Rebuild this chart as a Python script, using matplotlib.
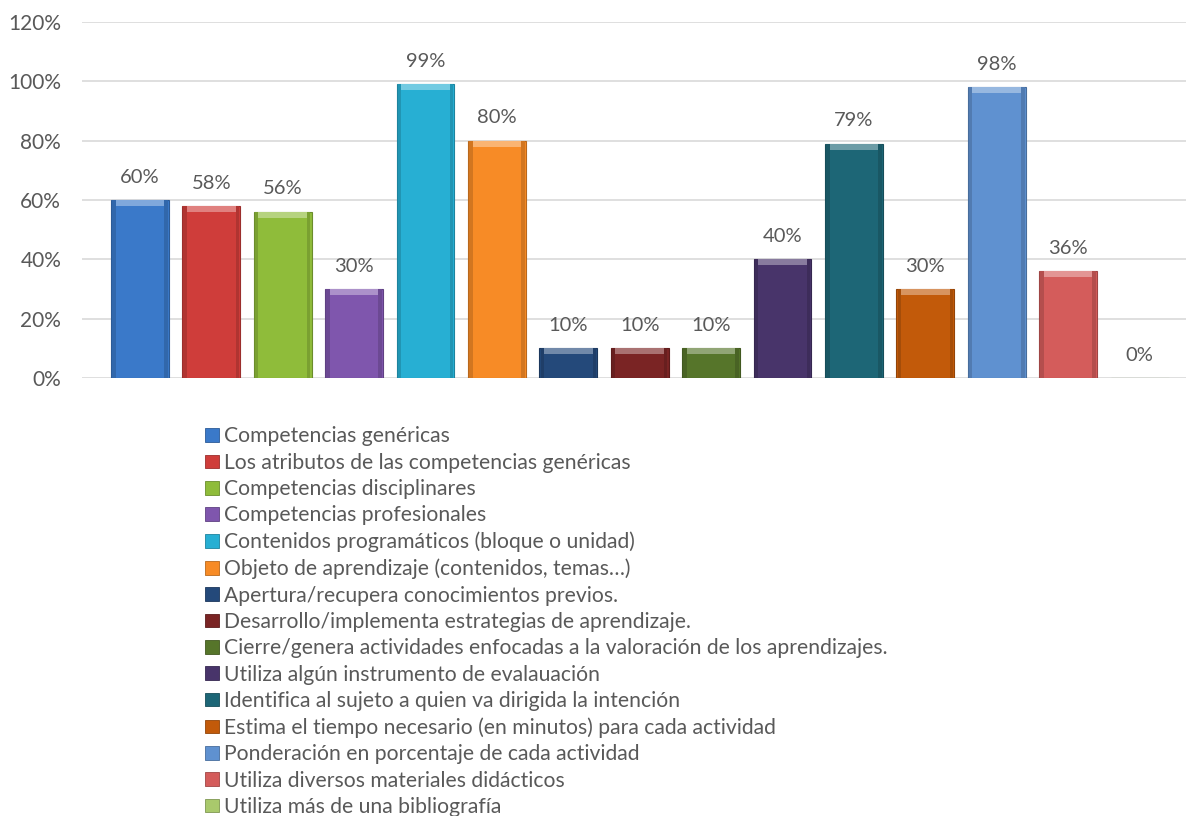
import matplotlib
matplotlib.use("Agg")
import matplotlib.pyplot as plt
import matplotlib.patches as mpatches
import numpy as np

plt.rcParams['font.family'] = ['Lato', 'DejaVu Sans']

categorias = [
    "Competencias genéricas",
    "Los atributos de las competencias genéricas",
    "Competencias disciplinares",
    "Competencias profesionales",
    "Contenidos programáticos (bloque o unidad)",
    "Objeto de aprendizaje (contenidos, temas…)",
    "Apertura/recupera conocimientos previos.",
    "Desarrollo/implementa estrategias de aprendizaje.",
    "Cierre/genera actividades enfocadas a la valoración de los aprendizajes.",
    "Utiliza algún instrumento de evalauación",
    "Identifica al sujeto a quien va dirigida la intención",
    "Estima el tiempo necesario (en minutos) para cada actividad",
    "Ponderación en porcentaje de cada actividad",
    "Utiliza diversos materiales didácticos",
    "Utiliza más de una bibliografía",
]
valores = [0.60, 0.58, 0.56, 0.30, 0.99, 0.80, 0.10, 0.10, 0.10, 0.40, 0.79, 0.30, 0.98, 0.36, 0.0]
colores = ['#3a79c9', '#cf3d3a', '#8fbc3a', '#7f56ad', '#27afd3', '#f78b26',
           '#24497a', '#7a2424', '#56752a', '#48346a', '#1d6676', '#c25a0a',
           '#5f91d0', '#d45c5b', '#a9c96c']
yticks = [0, 0.2, 0.4, 0.6, 0.8, 1.0, 1.2]

gris = '#595959'

fig = plt.figure(figsize=(11.86, 8.16), dpi=100)
ax = fig.add_axes([82/1186, 1-378/816, 1-82/1186, (378-22)/816])

x = np.arange(len(valores))
ancho = 0.81
bordes = [tuple(np.array(matplotlib.colors.to_rgb(c))*0.75) for c in colores]
ax.bar(x, valores, width=ancho, color=colores, zorder=3, edgecolor=bordes, linewidth=0.8)

# brillo arriba y bordes oscuros (efecto bisel)
for xi, v, c in zip(x, valores, colores):
    if v <= 0:
        continue
    rgb = np.array(matplotlib.colors.to_rgb(c))
    claro = tuple(rgb + (1-rgb)*0.35)
    cap = min(0.02, v*0.3)
    ax.bar(xi, cap, bottom=v-cap, width=ancho*0.92, color=claro, zorder=4, linewidth=0)
    oscuro = tuple(rgb*0.85)
    ax.bar(xi-ancho*0.45, v, width=ancho*0.06, color=oscuro, zorder=4, linewidth=0)
    ax.bar(xi+ancho*0.45, v, width=ancho*0.06, color=oscuro, zorder=4, linewidth=0)

for xi, v in zip(x, valores):
    ax.annotate(f"{v*100:.0f}%", (xi, v), xytext=(0, 16.5), textcoords='offset points',
                ha='center', va='center', fontsize=14.5, color=gris)

ax.set_ylim(0, 1.2)
ax.set_xlim(-0.81, 14.65)
ax.set_yticks(yticks)
ax.set_yticklabels([f"{t*100:.0f}%" for t in yticks], fontsize=15, color=gris)
ax.set_xticks([])
ax.tick_params(axis='y', length=0, pad=15)
for s in ax.spines.values():
    s.set_visible(False)
ax.grid(axis='y', color='#d9d9d9', linewidth=1.2, zorder=0)

handles = [mpatches.Patch(facecolor=c, edgecolor=b, linewidth=0.6) for c, b in zip(colores, bordes)]
leg = fig.legend(handles, categorias, loc='upper left', bbox_to_anchor=(197/1186, 1-418/816),
                 frameon=False, fontsize=15.2, handlelength=0.62, handleheight=0.62,
                 handletextpad=0.28, labelspacing=0.30, borderaxespad=0)
for t in leg.get_texts():
    t.set_color(gris)

fig.savefig('out.png', dpi=100)
